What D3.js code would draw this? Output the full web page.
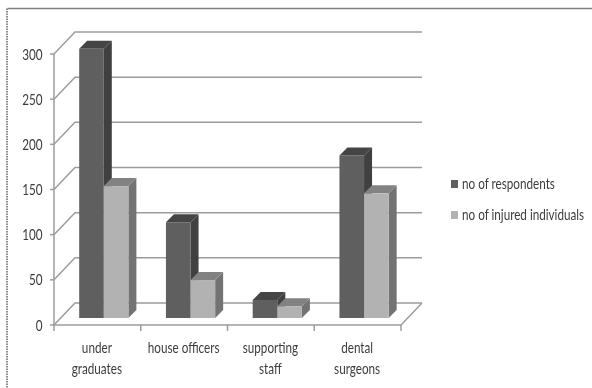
<!DOCTYPE html>
<html><head><meta charset="utf-8">
<script src="https://cdn.jsdelivr.net/npm/d3@7"></script>
<style>html,body{margin:0;padding:0;background:#fff}svg{display:block}text{font-family:Lato,sans-serif;fill:#3c3c3c}</style>
</head><body><svg id="c" width="592" height="388"></svg>
<script>
const categories=[["under","graduates"],["house officers"],["supporting","staff"],["dental","surgeons"]];
const seriesNames=["no of respondents","no of injured individuals"];
const respondents=[298,106,20,180];
const injured=[146,42,13,138];
const yTicks=[0,50,100,150,200,250,300];
const frontColors=["#5f5f5f","#b2b2b2"],sideColors=["#404040","#737373"],topColors=["#454545","#828282"];
const dx=21,dy=22,barDepth=8,floorInset=7;
const x0=54,x1=401,y0=325,y300=54;
const svg=d3.select("#c");
const root=svg.append("g").style("filter","blur(0.5px)");
const x=d3.scaleBand().domain(d3.range(categories.length)).range([x0,x1]);
const y=d3.scaleLinear().domain([0,300]).range([y0,y300]);
const grid="#9c9c9c";
root.append("path").attr("d","M7.5,8.5H592").attr("fill","none").attr("stroke","#808080").attr("stroke-width",1.6);
root.append("path").attr("d","M7,8.5V388").attr("fill","none").attr("stroke","#8c8c8c").attr("stroke-width",2).attr("stroke-dasharray","1.5,1");
const g=root.append("g").attr("fill","none").attr("stroke",grid).attr("stroke-width",1.5);
yTicks.forEach(t=>{
  g.append("path").attr("d",`M${x0},${y(t)}L${x0+dx},${y(t)-dy}H${x1+dx}`);
  g.append("path").attr("d",`M${x0-4},${y(t)}H${x0}`);
});
g.append("path").attr("d",`M${x0},${y(0)}V${y(300)}`);
g.append("path").attr("d",`M${x0},${y(0)}H${x1}L${x1+dx},${y(0)-dy}`);
d3.range(categories.length+1).forEach(i=>g.append("path").attr("d",`M${x0+i*x.step()},${y0}v6`));
const barW=24.6, inset=25.2;
const sy=v=>y(v)-floorInset;
[respondents,injured].forEach((vals,s)=>{
  const gs=root.append("g");
  vals.forEach((v,i)=>{
    const l=x(i)+inset+s*barW, r=l+barW, t=sy(v), b=sy(0);
    gs.append("polygon").attr("points",`${r},${t} ${r+barDepth},${t-barDepth} ${r+barDepth},${b-barDepth} ${r},${b}`).attr("fill",sideColors[s]);
    gs.append("polygon").attr("points",`${l},${t} ${l+barDepth},${t-barDepth} ${r+barDepth},${t-barDepth} ${r},${t}`).attr("fill",topColors[s]);
    gs.append("rect").attr("x",l).attr("y",t).attr("width",barW).attr("height",b-t).attr("fill",frontColors[s]);
  });
});
const fs=15.5, sx=0.755;
const label=(px,py,str,anchor)=>root.append("text").attr("transform",`translate(${px},${py}) scale(${sx},1)`).attr("text-anchor",anchor).attr("font-size",fs).text(str);
yTicks.forEach(t=>label(42.5,y(t)+5.5,t,"end"));
categories.forEach((lines,i)=>{
  lines.forEach((ln,j)=>label(x(i)+x.bandwidth()/2-0.5,353+j*20.5,ln,"middle"));
});
seriesNames.forEach((n,i)=>{
  const ly=184+i*31;
  root.append("rect").attr("x",451).attr("y",ly-4).attr("width",7).attr("height",8).attr("fill",frontColors[i]);
  label(462,ly+5,n,"start");
});
</script></body></html>
